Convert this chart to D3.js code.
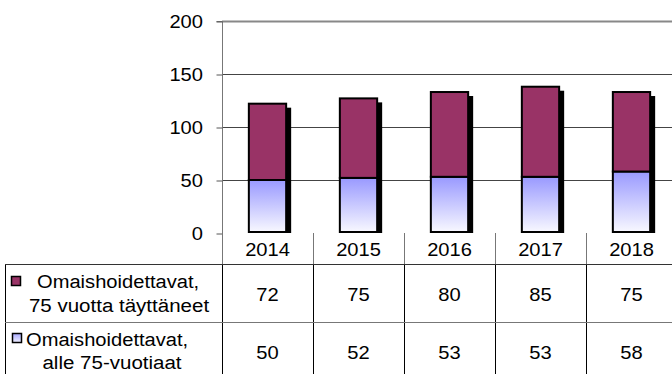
<!DOCTYPE html>
<html>
<head>
<meta charset="utf-8">
<script src="https://cdn.jsdelivr.net/npm/d3@7"></script>
<style>
  html, body { margin: 0; padding: 0; background: #fff; }
  svg { display: block; }
  text { font-family: "Liberation Sans", Arial, sans-serif; fill: #000; }
</style>
</head>
<body>
<svg id="chart" width="672" height="374"></svg>
<script>
// Omaishoidettavat vuosittain, ikäryhmittäin
const years = ['2014', '2015', '2016', '2017', '2018'];
const over75 = [72, 75, 80, 85, 75];   // 75 vuotta täyttäneet
const under75 = [50, 52, 53, 53, 58];  // alle 75-vuotiaat
const yTicks = [0, 50, 100, 150, 200];
const seriesOver = ['Omaishoidettavat,', '75 vuotta täyttäneet'];
const seriesUnder = ['Omaishoidettavat,', 'alle 75-vuotiaat'];

const W = 672, H = 374;
const plotLeft = 222, plotTop = 21, plotBottom = 233;
const tableLeft = 5;

const svg = d3.select('#chart');

const x = d3.scaleBand().domain(years).range([plotLeft, plotLeft + 91 * years.length]).padding(0);
const y = d3.scaleLinear().domain([0, 200]).range([plotBottom, plotTop]);
const barW = x.bandwidth() * 0.41;

// gradient for the lower series
const defs = svg.append('defs');
const grad = defs.append('linearGradient').attr('id', 'gUnder')
  .attr('x1', 0).attr('y1', 0).attr('x2', 0).attr('y2', 1);
grad.append('stop').attr('offset', '0%').attr('stop-color', '#9999ff');
grad.append('stop').attr('offset', '100%').attr('stop-color', '#f8f8ff');
const gradKey = defs.append('linearGradient').attr('id', 'gKey')
  .attr('x1', 0).attr('y1', 0).attr('x2', 0).attr('y2', 1);
gradKey.append('stop').attr('offset', '0%').attr('stop-color', '#a8a8ff');
gradKey.append('stop').attr('offset', '100%').attr('stop-color', '#f0f0ff');

// text with a slight horizontal stretch
function label(g, tx, ty, str, size, sx, anchor) {
  return g.append('text')
    .attr('transform', `translate(${tx},${ty}) scale(${sx},1)`)
    .attr('text-anchor', anchor || 'middle')
    .style('font-size', size + 'px')
    .text(str);
}

// gridlines
svg.append('g').selectAll('line').data(yTicks.filter(d => d > 0)).join('line')
  .attr('x1', plotLeft).attr('x2', W)
  .attr('y1', d => Math.round(y(d)) + 0.5).attr('y2', d => Math.round(y(d)) + 0.5)
  .attr('stroke', d => d === 200 ? '#888' : '#444')
  .attr('stroke-width', d => d === 200 ? 2 : 1);

// y axis
const yAxis = d3.axisLeft(y).tickValues(yTicks).tickSize(6).tickFormat('');
const ya = svg.append('g').attr('transform', `translate(${plotLeft + 0.5},0.5)`).call(yAxis);
ya.select('.domain').attr('stroke', '#777').attr('d', `M-6,${plotTop}H0V${plotBottom}`);
ya.selectAll('.tick line').attr('stroke', '#555');
yTicks.forEach(t => {
  label(svg, 203, y(t) + 6.5, String(t), 17.5, 1.15, 'end');
});

// bars: shadow, lower segment, upper segment
const bars = svg.append('g');
years.forEach((yr, i) => {
  const cx = x(yr) + x.bandwidth() / 2;
  const x0 = cx - barW / 2;
  const total = under75[i] + over75[i];
  bars.append('rect')
    .attr('x', x0 + 5).attr('y', y(total) + 4)
    .attr('width', barW).attr('height', plotBottom - y(total) - 4)
    .attr('fill', '#000');
  bars.append('rect')
    .attr('x', x0).attr('y', y(under75[i]))
    .attr('width', barW).attr('height', y(0) - y(under75[i]) - 1)
    .attr('fill', 'url(#gUnder)').attr('stroke', '#000').attr('stroke-width', 2);
  bars.append('rect')
    .attr('x', x0).attr('y', y(total))
    .attr('width', barW).attr('height', y(under75[i]) - y(total))
    .attr('fill', '#993366').attr('stroke', '#000').attr('stroke-width', 2);
});

// data table
const tbl = svg.append('g');
const rowHeadTop = plotBottom, row1Top = 264, row2Top = 322;
const right = plotLeft + 91 * years.length;
// column dividers
years.forEach((yr, i) => {
  const xe = Math.round(x(yr)) + 0.5;
  tbl.append('line').attr('x1', xe).attr('x2', xe).attr('y1', rowHeadTop).attr('y2', row1Top).attr('stroke', '#777');
  tbl.append('line').attr('x1', xe).attr('x2', xe).attr('y1', row1Top).attr('y2', H).attr('stroke', '#000');
});
tbl.append('line').attr('x1', right - 0.5).attr('x2', right - 0.5).attr('y1', rowHeadTop).attr('y2', H).attr('stroke', '#000');
tbl.append('line').attr('x1', tableLeft + 0.5).attr('x2', tableLeft + 0.5).attr('y1', row1Top).attr('y2', H).attr('stroke', '#000');
tbl.append('line').attr('x1', tableLeft).attr('x2', W).attr('y1', row1Top + 0.5).attr('y2', row1Top + 0.5).attr('stroke', '#333');
tbl.append('line').attr('x1', tableLeft).attr('x2', W).attr('y1', row2Top + 0.5).attr('y2', row2Top + 0.5).attr('stroke', '#777');

// year headings and values
years.forEach((yr, i) => {
  const cx = x(yr) + x.bandwidth() / 2;
  label(tbl, cx, 256, yr, 17.5, 1.15);
  label(tbl, cx, 301, String(over75[i]), 18, 1.12);
  label(tbl, cx, 359, String(under75[i]), 18, 1.12);
});

// row headers with legend keys
tbl.append('rect').attr('x', 11.5).attr('y', 276.5).attr('width', 9).attr('height', 9)
  .attr('fill', '#993366').attr('stroke', '#000').attr('stroke-width', 1.5);
label(tbl, 37, 288, seriesOver[0], 19, 1.06, 'start');
label(tbl, 119, 312, seriesOver[1], 19, 1.08);

tbl.append('rect').attr('x', 12.5).attr('y', 333.5).attr('width', 9).attr('height', 9)
  .attr('fill', 'url(#gKey)').attr('stroke', '#000').attr('stroke-width', 1.5);
label(tbl, 26, 346, seriesUnder[0], 19, 1.06, 'start');
label(tbl, 112, 369, seriesUnder[1], 19, 1.08);
</script>
</body>
</html>
